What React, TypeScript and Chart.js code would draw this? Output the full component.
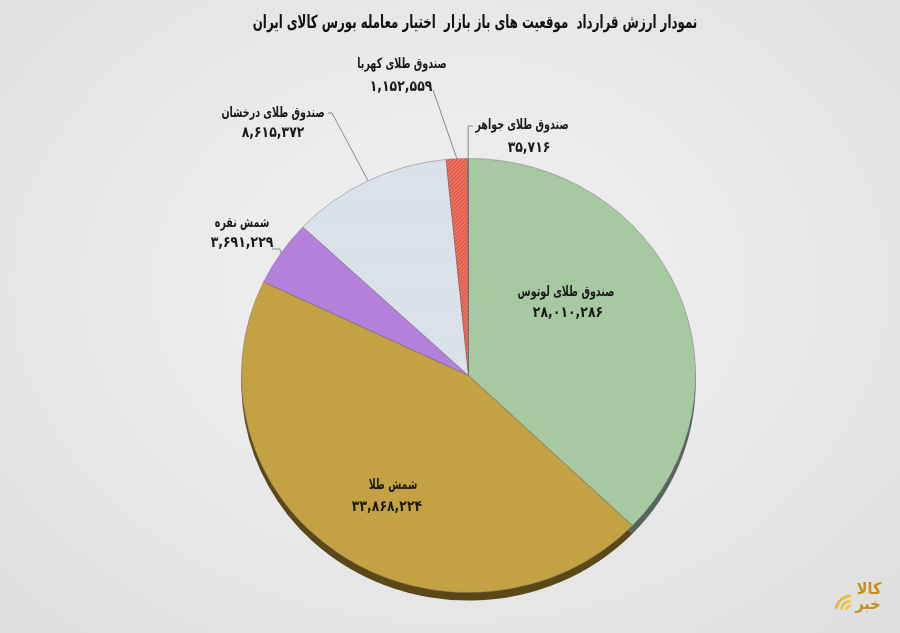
import { useEffect, useRef } from 'react';
import { Chart, registerables } from 'chart.js';

Chart.register(...registerables);

const TITLE = 'نمودار ارزش قرارداد  موقعیت های باز بازار  اختیار معامله بورس کالای ایران';
const categories = ['صندوق طلای لوتوس', 'شمش طلا', 'شمش نقره', 'صندوق طلای درخشان', 'صندوق طلای کهربا', 'صندوق طلای جواهر'];
const values = [28010286, 33868224, 3691229, 8615372, 1152559, 35716];
const baseColors = ['#a7c9a1', '#c4a243', '#b480dc', '#dde3eb', '#e65c4b', '#4f81bd'];
const sideColors = ['#55665a', '#5a4818', '#5e4473', '#7a8088', '#7a2a20', '#2a4468'];

const FA_DIGITS = '۰۱۲۳۴۵۶۷۸۹';
const toFa = (v: number) => v.toLocaleString('en-US').replace(/\d/g, (d) => FA_DIGITS[+d]);

// label placement (text centres), and optional leader line anchors
const LABEL_LAYOUT = [
  { nx: 566, ny: 292, vx: 568, vy: 313 },
  { nx: 393, ny: 485, vx: 387, vy: 507 },
  { nx: 242, ny: 223, vx: 242, vy: 243, lx: 272, ly: 249, elbow: 8 },
  { nx: 273, ny: 113, vx: 273, vy: 133, lx: 328, ly: 113, elbow: 4 },
  { nx: 402, ny: 64, vx: 401, vy: 87, lx: 433, ly: 90, elbow: 0 },
  { nx: 522, ny: 125, vx: 529, vy: 148, lx: 473, ly: 126, elbow: -4 },
];

const K = 0.956; // vertical squash of the pie (tilted look)
const DEPTH = 8;
const FONT = "'DejaVu Sans', sans-serif";

function makePattern(base: string, line: string, kind: 'hatch' | 'dots') {
  const c = document.createElement('canvas');
  c.width = 4;
  c.height = 4;
  const g = c.getContext('2d')!;
  g.fillStyle = base;
  g.fillRect(0, 0, 4, 4);
  g.fillStyle = line;
  if (kind === 'hatch') {
    g.fillRect(0, 0, 1, 1);
    g.fillRect(2, 2, 1, 1);
    g.fillRect(1, 3, 1, 1);
    g.fillRect(3, 1, 1, 1);
  } else {
    g.fillRect(0, 0, 1, 1);
    g.fillRect(2, 2, 1, 1);
  }
  return g.createPattern(c, 'repeat')!;
}

function drawCondensed(ctx: CanvasRenderingContext2D, text: string, x: number, y: number, sx: number) {
  ctx.save();
  ctx.translate(x, y);
  ctx.scale(sx, 1);
  ctx.fillText(text, 0, 0);
  ctx.restore();
}

const ellipsePlugin = {
  id: 'ellipse3d',
  beforeDatasetsDraw(chart: any) {
    const meta = chart.getDatasetMeta(0);
    const ctx = chart.ctx as CanvasRenderingContext2D;
    const a0 = meta.data[0];
    const cx = a0.x;
    const cy = a0.y;
    ctx.save();
    ctx.translate(cx, cy);
    ctx.scale(1, K);
    ctx.translate(-cx, -cy);
    const d = DEPTH / K;
    meta.data.forEach((arc: any, i: number) => {
      const p = arc.getProps(['startAngle', 'endAngle', 'outerRadius'], true);
      ctx.beginPath();
      ctx.moveTo(cx, cy + d);
      ctx.arc(cx, cy + d, p.outerRadius, p.startAngle, p.endAngle);
      ctx.closePath();
      ctx.fillStyle = sideColors[i];
      ctx.fill();
    });
  },
  afterDatasetsDraw(chart: any) {
    chart.ctx.restore();
  },
};

const labelsPlugin = {
  id: 'persianLabels',
  afterDraw(chart: any) {
    const ctx = chart.ctx as CanvasRenderingContext2D;
    const meta = chart.getDatasetMeta(0);
    ctx.save();
    ctx.textAlign = 'center';
    ctx.textBaseline = 'middle';
    ctx.fillStyle = '#111';
    ctx.font = `bold 18px ${FONT}`;
    drawCondensed(ctx, TITLE, 475, 23, 0.655);

    meta.data.forEach((arc: any, i: number) => {
      const L: any = LABEL_LAYOUT[i];
      const p = arc.getProps(['x', 'y', 'startAngle', 'endAngle', 'outerRadius'], true);
      if (L.lx !== undefined) {
        const mid = (p.startAngle + p.endAngle) / 2;
        const ex = p.x + Math.cos(mid) * p.outerRadius;
        const ey = p.y + Math.sin(mid) * p.outerRadius * K;
        ctx.strokeStyle = '#8a8a8a';
        ctx.lineWidth = 1;
        ctx.beginPath();
        ctx.moveTo(L.lx, L.ly);
        if (L.elbow) ctx.lineTo(L.lx + L.elbow, L.ly);
        if (L.elbow < 0) ctx.lineTo(ex, L.ly);
        ctx.lineTo(ex, ey);
        ctx.stroke();
      }
      ctx.fillStyle = '#1a1a1a';
      ctx.font = `bold 14px ${FONT}`;
      drawCondensed(ctx, categories[i], L.nx, L.ny, 0.68);
      ctx.font = `bold 15px ${FONT}`;
      drawCondensed(ctx, toFa(values[i]), L.vx, L.vy, 0.83);
    });

    // logo
    const grad = ctx.createLinearGradient(830, 580, 885, 615);
    grad.addColorStop(0, '#c98f12');
    grad.addColorStop(0.5, '#f2d060');
    grad.addColorStop(1, '#d9a21e');
    ctx.strokeStyle = grad;
    ctx.lineWidth = 2.8;
    [5, 10, 15].forEach((r) => {
      ctx.beginPath();
      ctx.arc(851, 611, r, Math.PI * 1.05, Math.PI * 1.5);
      ctx.stroke();
    });
    ctx.fillStyle = grad;
    ctx.font = `bold 16px ${FONT}`;
    drawCondensed(ctx, 'کالا', 869, 590, 0.9);
    drawCondensed(ctx, 'خبر', 868, 605, 0.9);
    ctx.restore();
  },
};

export default function App() {
  const ref = useRef<HTMLCanvasElement>(null);
  useEffect(() => {
    const canvas = ref.current!;
    const fills: any[] = baseColors.slice();
    fills[3] = makePattern('#dde3eb', '#ccd4de', 'dots');
    fills[4] = makePattern('#e65c4b', '#f28a7a', 'hatch');
    const chart = new Chart(canvas, {
      type: 'pie',
      data: {
        labels: categories,
        datasets: [
          {
            data: values,
            backgroundColor: fills,
            borderColor: 'rgba(105,105,105,0.55)',
            borderWidth: 0.8,
          },
        ],
      },
      options: {
        responsive: true,
        maintainAspectRatio: false,
        animation: false,
        events: [],
        layout: { padding: { left: 241, right: 204, top: 148, bottom: 30 } },
        plugins: {
          legend: { display: false },
          tooltip: { enabled: false },
          title: { display: false },
        },
      },
      plugins: [ellipsePlugin, labelsPlugin],
    });
    return () => chart.destroy();
  }, []);
  return (
    <div
      style={{
        position: 'absolute',
        left: 0,
        top: 0,
        width: 900,
        height: 633,
        background: 'radial-gradient(ellipse at 50% 45%, #ececec 35%, #dedede 100%)',
      }}
    >
      <canvas ref={ref} />
    </div>
  );
}
